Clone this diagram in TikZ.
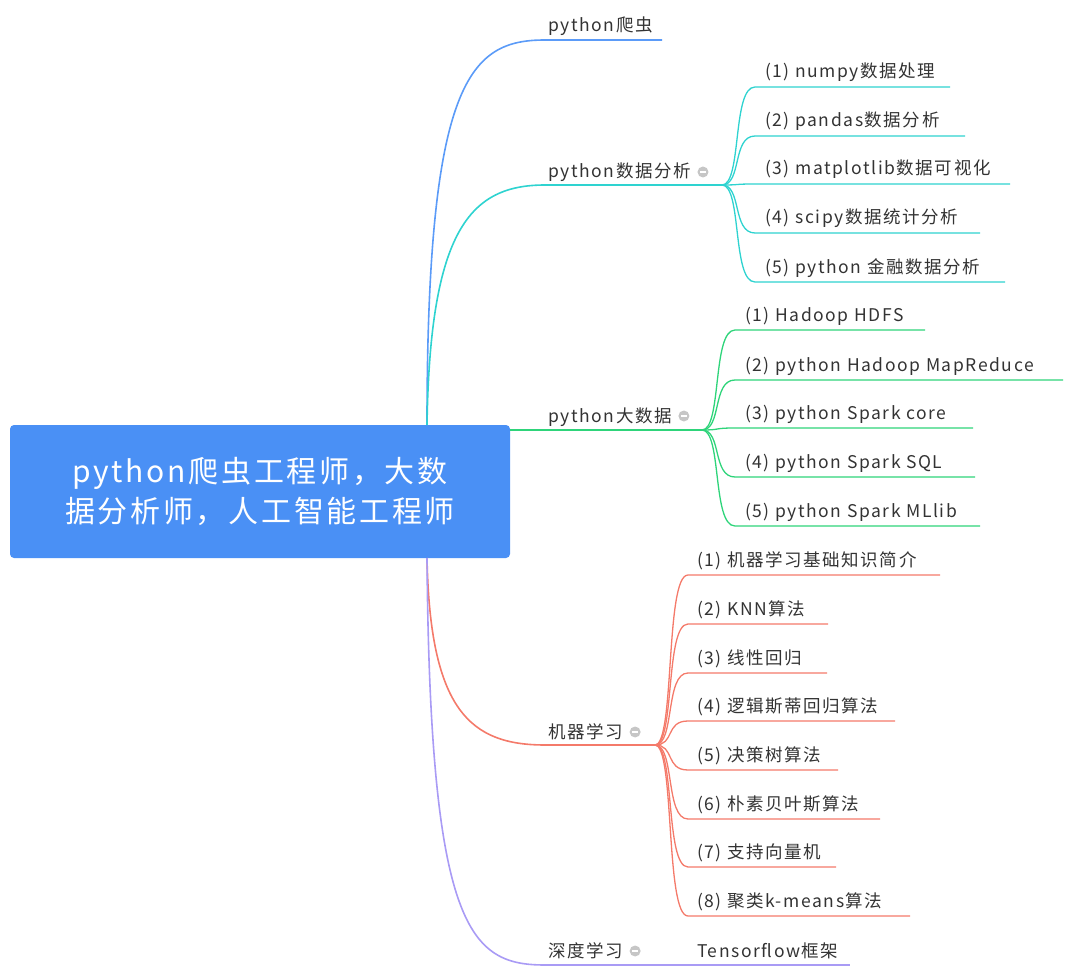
\documentclass[tikz,border=0pt]{standalone}
\usepackage{fontspec}
\setmainfont{Noto Sans CJK SC}[LetterSpace=9]
\usetikzlibrary{calc}
\begin{document}
\begin{tikzpicture}[x=1pt,y=-1pt,
  lab/.style={anchor=base west,inner sep=0pt,font=\fontsize{17.5}{20}\selectfont,text=black!80},
  br/.style={line width=1.6pt},
  cb/.style={line width=1.3pt},
  icon/.pic={\fill[gray!45] (0,0) circle (5.5); \draw[white,line width=1.3pt] (-3,0)--(3,0);}]
\useasboundingbox (0,0) rectangle (1072,979);
\definecolor{cB}{HTML}{5B9BF8}\definecolor{cC}{HTML}{2ED3D0}\definecolor{cG}{HTML}{2ED47A}
\definecolor{cR}{HTML}{F47A6A}\definecolor{cP}{HTML}{A99BF5}\definecolor{rootc}{HTML}{4A90F5}
% root
\node[fill=rootc,rounded corners=4pt,minimum width=500pt,minimum height=133pt,inner sep=0pt,
  text=white,align=center,font=\fontsize{30}{40}\selectfont] (root) at (260,491.5) {python爬虫工程师，大数\\据分析师，人工智能工程师};
% level 1
\coordinate (t1) at (427,425); \coordinate (b1) at (427,558); \coordinate (r1) at (510,430);
\node[lab] (n1) at (548,32) {python爬虫};
\node[lab] (n2) at (548,178) {python数据分析};
\node[lab] (n3) at (548,422) {python大数据};
\node[lab] (n4) at (548,738) {机器学习};
\node[lab] (n5) at (548,957) {深度学习};
\foreach \n in {n2,n3,n4,n5}{\pic at ($(\n.base east)+(12,-6)$) {icon};}
\draw[br,cB] (t1) .. controls (427,80) and (470,40) .. (545,40) -- (662,40);
\draw[br,cC] (t1) .. controls (430,230) and (470,185) .. (545,185) -- (722,185) coordinate (p2);
\draw[br,cG] (r1) -- (702,430) coordinate (p3);
\draw[br,cR] (b1) .. controls (430,710) and (470,745) .. (545,745) -- (655,745) coordinate (p4);
\draw[br,cP] (b1) .. controls (430,930) and (470,965) .. (545,965) -- (655,965);
% python数据分析 children
\foreach \t/\y/\e [count=\i] in {{(1) numpy数据处理}/87/950,{(2) pandas数据分析}/136/965,{(3) matplotlib数据可视化}/184/1010,{(4) scipy数据统计分析}/233/980,{(5) python 金融数据分析}/282/1005}{
  \node[lab] (a\i) at (765,\y-9) {\t};
  \draw[cb,cC] (p2) .. controls (742,185) and (732,\y) .. (755,\y) -- (\e,\y);}
\foreach \t/\y/\e [count=\i] in {{(1) Hadoop HDFS}/330/925,{(2) python Hadoop MapReduce}/380/1063,{(3) python Spark core}/428/973,{(4) python Spark SQL}/477/975,{(5) python Spark MLlib}/526/980}{
  \node[lab] (b\i) at (745,\y-9) {\t};
  \draw[cb,cG] (p3) .. controls (722,430) and (712,\y) .. (735,\y) -- (\e,\y);}
\foreach \t/\y/\e [count=\i] in {{(1) 机器学习基础知识简介}/575/940,{(2) KNN算法}/624/828,{(3) 线性回归}/673/827,{(4) 逻辑斯蒂回归算法}/721/895,{(5) 决策树算法}/770/838,{(6) 朴素贝叶斯算法}/819/880,{(7) 支持向量机}/867/836,{(8) 聚类k-means算法}/916/910}{
  \node[lab] (c\i) at (697,\y-9) {\t};
  \draw[cb,cR] (p4) .. controls (675,745) and (665,\y) .. (688,\y) -- (\e,\y);}
\node[lab] (d1) at (697,957) {Tensorflow框架};
\draw[cb,cP] (655,965) -- (850,965);
\end{tikzpicture}
\end{document}
